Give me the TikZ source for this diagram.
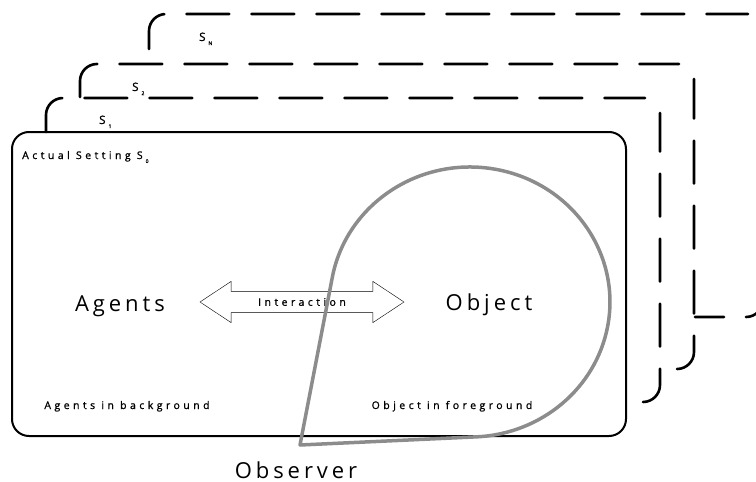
\documentclass[tikz,border=0pt]{standalone}
\usepackage{fontspec}
\usepackage{xcolor}
\setmainfont{Open Sans}
\usetikzlibrary{shapes.arrows}

\newcommand{\sidx}[1]{\hspace{3pt}\raisebox{-4pt}{\fontsize{5}{6}\selectfont #1}}

\begin{document}
\begin{tikzpicture}[
    x=1pt, y=1pt,
    setting/.style={rectangle, draw=black, line width=2pt, rounded corners=17pt, minimum width=614pt, minimum height=304pt},
    frame/.style={line width=2.6pt, line cap=round, dash pattern=on 43pt off 22pt, rounded corners=17pt},
    bigword/.style={font=\fontsize{22}{26}\selectfont\addfontfeature{LetterSpace=18}, inner sep=0pt},
    smallword/.style={font=\fontsize{10.5}{12}\selectfont\addfontfeature{LetterSpace=33,FakeBold=1}, inner sep=0pt},
    tag/.style={font=\fontsize{11.5}{13}\selectfont\addfontfeature{FakeBold=1}, anchor=base west, inner sep=0pt},
    exchange/.style={double arrow, draw=black, fill=white, thin, minimum height=204pt, double arrow head extend=10pt, double arrow tip angle=67, inner xsep=0pt, inner ysep=6.5pt},
    view/.style={draw=black!45, line width=3.5pt, line join=round}
]

\useasboundingbox (0,0) rectangle (756,-482);

% Other settings, stacked behind
\draw[frame] (149,-49) |- (748,-14);
\draw[frame, dash phase=6.3pt] (763,-290) |- (695,-317);
\draw[frame] (80,-97) |- (679,-64);
\draw[frame] (677,-369) -| (694,-79);
\draw[frame] (46,-132) |- (645,-98);
\draw[frame] (643,-402) -| (660,-113);

\node[tag] (sn) at (199,-41) {S\sidx{N}};
\node[tag] (s2) at (132,-91) {S\sidx{2}};
\node[tag] (s1) at (99,-124) {S\sidx{1}};

% Actual setting
\node[setting] (actual) at (319,-284) {};
\node[smallword, anchor=base west] (actualname) at (22,-159) {Actual Setting S\sidx{0}};

\node[bigword, anchor=base] (agents) at (120,-311) {Agents};
\node[bigword, anchor=base] (object) at (489,-310) {Object};
\node[smallword, exchange] (interaction) at (302,-302) {Interaction};

\node[smallword, anchor=base] (agentsbg) at (127,-409) {Agents in background};
\node[smallword, anchor=base] (objectfg) at (452,-409) {Object in foreground};

% Observer and its view
\coordinate (eye) at (300,-445);
\draw[view] (eye) -- (332.3,-277.4) arc[start angle=169.5, end angle=-87.3, x radius=140pt, y radius=135pt] -- cycle;
\node[bigword, anchor=base] (observer) at (296,-478) {Observer};

\end{tikzpicture}
\end{document}
